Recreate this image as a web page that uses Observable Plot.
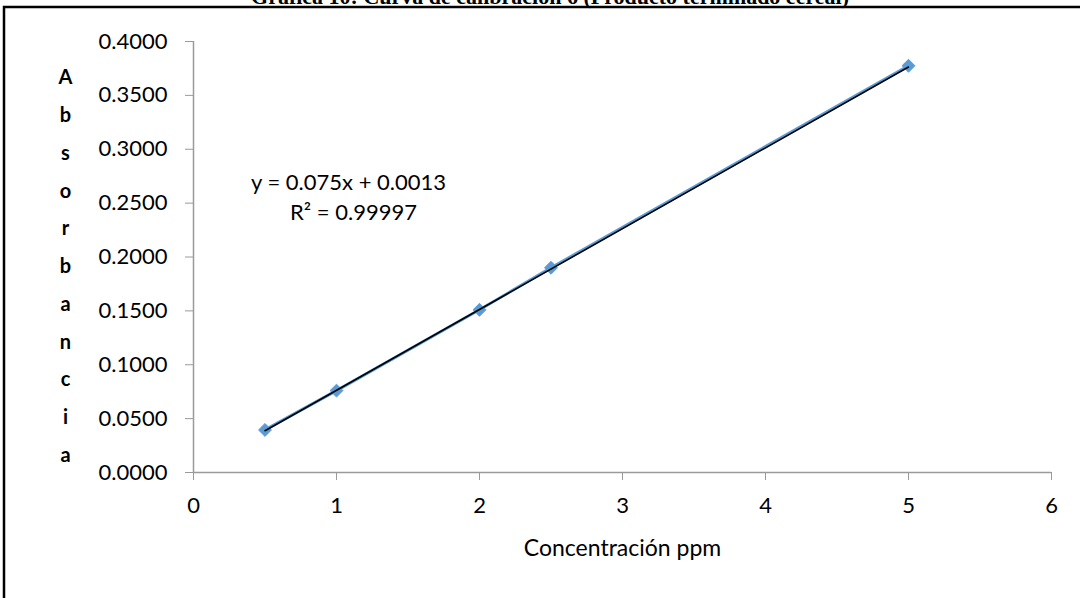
<!DOCTYPE html>
<html>
<head>
<meta charset="utf-8">
<script src="https://cdn.jsdelivr.net/npm/d3@7"></script>
<script src="https://cdn.jsdelivr.net/npm/@observablehq/plot@0.6"></script>
<style>
  body { margin: 0; background: #fff; }
  #chart svg { display: block; }
</style>
</head>
<body>
<div id="chart"></div>
<script>
// Calibration standards: concentration (ppm) and measured absorbance
const concentration = [0.5, 1, 2, 2.5, 5];
const absorbance = [0.0395, 0.0760, 0.1510, 0.1900, 0.3775];

// Linear trendline fitted to the standards
const slope = 0.075;
const intercept = 0.0013;
const rSquared = 0.99997;

// Axis ticks and texts
const xTicks = [0, 1, 2, 3, 4, 5, 6];
const yTicks = [0, 0.05, 0.10, 0.15, 0.20, 0.25, 0.30, 0.35, 0.40];
const title = "Gráfica 10: Curva de calibración 6 (Producto terminado cereal)";
const xLabel = "Concentración ppm";
const yLabel = "Absorbancia";

const points = concentration.map((c, i) => ({c, a: absorbance[i]}));
const [cMin, cMax] = d3.extent(concentration);
const trend = [cMin, cMax].map(c => ({c, a: slope * c + intercept}));

const blue = "#5B9BD5";
const axisGray = "#9a9a9a";
const font = "Lato, 'Open Sans', sans-serif";

const chart = Plot.plot({
  width: 1080,
  height: 598,
  marginLeft: 193,
  marginRight: 29,
  marginTop: 41,
  marginBottom: 126,
  style: {fontFamily: font, fontSize: "22px", color: "#000", background: "#fff", overflow: "visible"},
  x: {domain: [0, 6]},
  y: {domain: [0, 0.4]},
  marks: [
    // axis lines
    Plot.ruleX([0], {stroke: axisGray, strokeWidth: 1.5}),
    Plot.ruleY([0], {stroke: axisGray, strokeWidth: 1.5}),
    Plot.axisY(yTicks, {
      tickSize: 8, tickPadding: 18, tickFormat: d3.format(".4f"),
      stroke: axisGray, fill: "#000", fontSize: 22, label: null
    }),
    Plot.axisX(xTicks, {
      tickSize: 8, tickPadding: 17, tickFormat: d3.format("d"),
      stroke: axisGray, fill: "#000", fontSize: 22, label: null
    }),
    // series line and markers
    Plot.line(points, {x: "c", y: "a", stroke: blue, strokeWidth: 3}),
    Plot.dot(points, {x: "c", y: "a", symbol: "diamond2", r: 5.8, fill: blue, stroke: blue, strokeWidth: 1}),
    // linear trendline
    Plot.line(trend, {x: "c", y: "a", stroke: "#000", strokeWidth: 1.6}),
    // trendline equation
    Plot.text([`y = ${slope}x + ${intercept}`], {
      frameAnchor: "top-left", dx: 155, dy: 141, textAnchor: "middle",
      lineAnchor: "middle", fontSize: 22, fill: "#000"
    }),
    Plot.text([`R² = ${rSquared}`], {
      frameAnchor: "top-left", dx: 160, dy: 171, textAnchor: "middle",
      lineAnchor: "middle", fontSize: 22, fill: "#000"
    }),
    // stacked vertical y-axis title
    Plot.text([yLabel.split("").join("\n")], {
      frameAnchor: "left", dx: -128, dy: 4, textAnchor: "middle",
      lineAnchor: "middle", lineHeight: 1.89, fontSize: 20, fontWeight: "bold", fill: "#000"
    }),
    // x-axis title
    Plot.text([xLabel], {
      frameAnchor: "bottom", dy: 76, textAnchor: "middle",
      lineAnchor: "middle", fontSize: 23, fill: "#000"
    })
  ]
});

const svg = d3.select(chart);
// outer chart-area border
svg.append("path")
  .attr("d", "M4,620V7H1100")
  .attr("fill", "none")
  .attr("stroke", "#000")
  .attr("stroke-width", 2.5);
// figure caption sitting above the border
svg.append("text")
  .attr("x", 550)
  .attr("y", 3.5)
  .attr("text-anchor", "middle")
  .attr("font-family", "'Liberation Serif', 'Times New Roman', serif")
  .attr("font-weight", "bold")
  .attr("font-size", 22)
  .attr("fill", "#000")
  .text(title);

document.getElementById("chart").appendChild(chart);
</script>
</body>
</html>
